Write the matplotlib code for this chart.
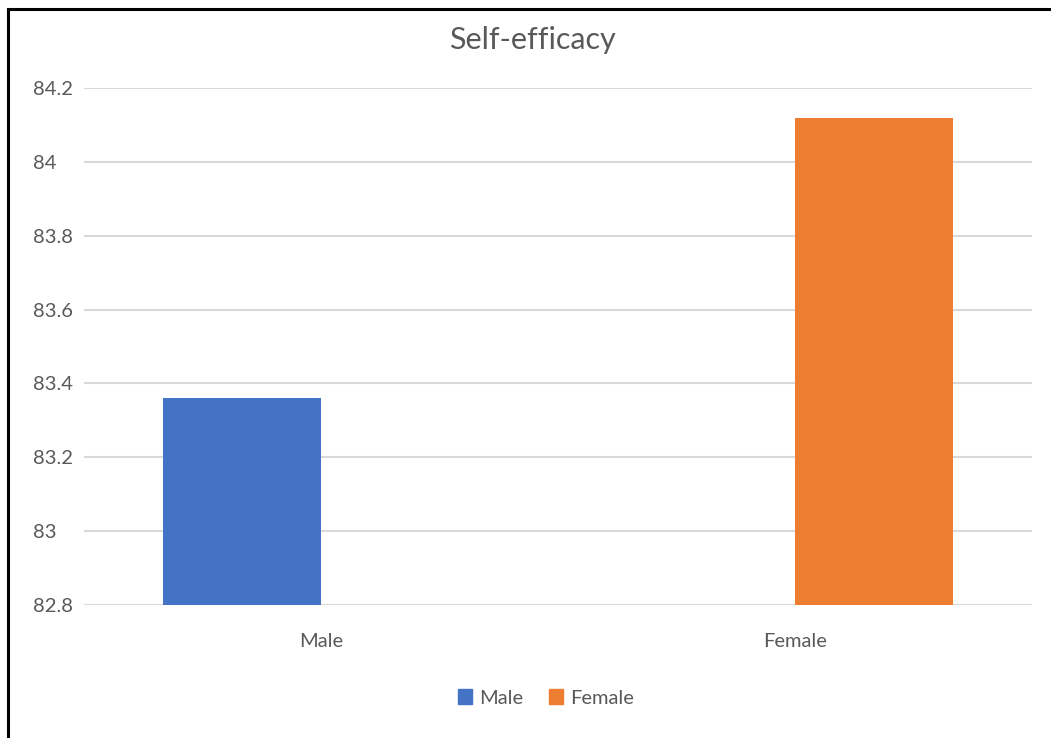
import matplotlib
matplotlib.use("Agg")
import matplotlib.pyplot as plt
from matplotlib.patches import Rectangle
from matplotlib.lines import Line2D
import numpy as np

categories = ["Male", "Female"]
series_names = ["Male", "Female"]
male_values = [83.36, None]
female_values = [None, 84.12]
colors = ["#4472C4", "#ED7D31"]
yticks = [82.8, 83.0, 83.2, 83.4, 83.6, 83.8, 84.0, 84.2]
ytick_labels = ["82.8", "83", "83.2", "83.4", "83.6", "83.8", "84", "84.2"]

plt.rcParams['font.family'] = ['Lato', 'DejaVu Sans']

W, H = 1051, 738
fig = plt.figure(figsize=(W / 100, H / 100), dpi=100)
ax = fig.add_axes([84 / W, 1 - 605 / H, (1032 - 84) / W, (605 - 88) / H])

x = np.arange(len(categories))
bw = 0.334
base = 82.8
for i, (name, vals) in enumerate(zip(series_names, [male_values, female_values])):
    off = -bw / 2 if i == 0 else bw / 2
    for xi, v in zip(x, vals):
        if v is None:
            continue
        ax.bar(xi + off, v - base, bottom=base, width=bw, color=colors[i], zorder=3)

ax.set_xlim(-0.5, 1.5)
ax.set_ylim(82.8, 84.2)
ax.set_yticks(yticks)
ax.set_yticklabels(ytick_labels)
ax.set_xticks(x)
ax.set_xticklabels(categories)
ax.tick_params(axis='both', length=0, labelsize=14.5, colors="#595959")
ax.tick_params(axis='x', pad=20)
ax.yaxis.set_tick_params(pad=0)
for lab in ax.get_yticklabels():
    lab.set_horizontalalignment('left')
    lab.set_x(-51 / 948)
ax.grid(axis='y', color="#D9D9D9", linewidth=1.5, zorder=0)
for s in ax.spines.values():
    s.set_visible(False)

fig.text(532 / W, 1 - 40 / H, "Self-efficacy", ha='center', va='center', fontsize=22, color="#595959")

handles = [Rectangle((0, 0), 1, 1, color=c) for c in colors]
fig.legend(handles, series_names, loc='center', bbox_to_anchor=(546 / W, 1 - 698 / H),
           ncol=2, frameon=False, fontsize=14.5, handlelength=0.7, handleheight=0.7,
           handletextpad=0.35, columnspacing=1.3, labelcolor="#595959")

# outer frame
fig.add_artist(Line2D([8 / W, 8 / W], [0, 1 - 9 / H], color='black', lw=2.2, transform=fig.transFigure))
fig.add_artist(Line2D([8 / W, 1], [1 - 9 / H, 1 - 9 / H], color='black', lw=2.2, transform=fig.transFigure))

fig.savefig("out.png", dpi=100)
